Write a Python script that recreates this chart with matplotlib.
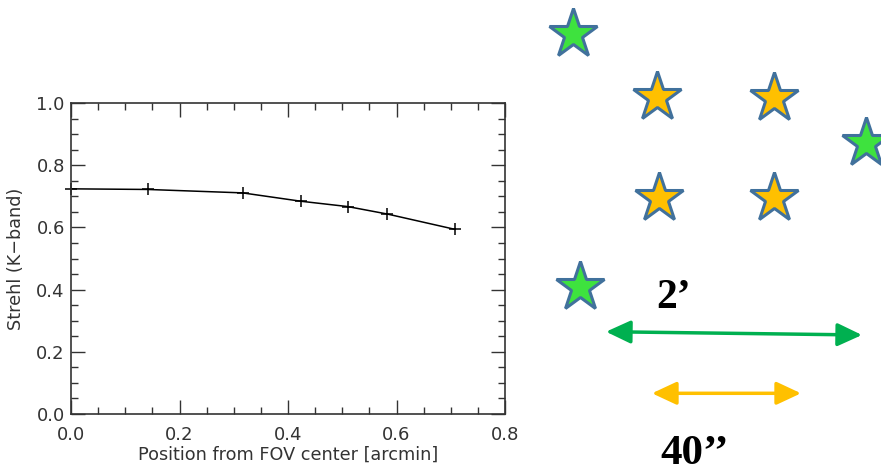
import matplotlib
matplotlib.use("Agg")
import matplotlib.pyplot as plt
from matplotlib.patches import FancyArrowPatch
from matplotlib.ticker import MultipleLocator

# ---- data ----
position_arcmin = [0.0, 0.1414, 0.3162, 0.4243, 0.510, 0.583, 0.7071]
strehl_k = [0.724, 0.722, 0.711, 0.684, 0.667, 0.643, 0.594]

x_ticks = [0.0, 0.2, 0.4, 0.6, 0.8]
y_ticks = [0.0, 0.2, 0.4, 0.6, 0.8, 1.0]

# schematic star field (figure pixel coordinates)
green_star_x = [573, 866, 580]
green_star_y = [34, 143, 287]
orange_star_x = [657, 774, 659, 774]
orange_star_y = [97, 98, 198, 198]

green_arrow_x = [606, 862]
green_arrow_y = [331.7, 335]
orange_arrow_x = [652, 801]
orange_arrow_y = [393.3, 393.3]

label_big = "2\u2019"
label_small = "40\u2019\u2019"

W, H = 881, 472
fig = plt.figure(figsize=(W / 100, H / 100), dpi=100)
fig.patch.set_facecolor("white")

# ---- left plot ----
L, R, T, B = 71, 505, 103, 414
ax = fig.add_axes([L / W, 1 - B / H, (R - L) / W, (B - T) / H])
axcol = "#333333"
ax.plot(position_arcmin, strehl_k, color="black", lw=1.1, marker="+",
        markersize=8, markeredgewidth=1.1, clip_on=False)
ax.set_xlim(0, 0.8)
ax.set_ylim(0, 1.0)
ax.set_xticks(x_ticks)
ax.set_yticks(y_ticks)
ax.set_xticklabels([f"{v:.1f}" for v in x_ticks])
ax.set_yticklabels([f"{v:.1f}" for v in y_ticks])
ax.xaxis.set_minor_locator(MultipleLocator(0.05))
ax.yaxis.set_minor_locator(MultipleLocator(0.05))
ax.tick_params(which="both", direction="in", top=True, right=True, color=axcol)
ax.tick_params(which="major", length=10, width=1.0, labelsize=13, labelcolor=axcol)
ax.tick_params(which="minor", length=5, width=1.0)
ax.tick_params(axis="x", which="major", pad=9)
ax.tick_params(axis="y", which="major", pad=4.5)
for s in ax.spines.values():
    s.set_color(axcol)
    s.set_linewidth(1.2)
ax.set_xlabel("Position from FOV center [arcmin]", fontsize=12.7, color=axcol, labelpad=1)
ax.set_ylabel("Strehl (K\u2212band)", fontsize=12.7, color=axcol, labelpad=8)

# ---- right schematic ----
ov = fig.add_axes([0, 0, 1, 1])
ov.set_xlim(0, W)
ov.set_ylim(H, 0)
ov.axis("off")
ov.patch.set_alpha(0)

edge = "#41719C"
ov.plot(green_star_x, green_star_y, ls="none", marker="*", markersize=37,
        markerfacecolor="#3EE23E", markeredgecolor=edge, markeredgewidth=2.2, clip_on=False)
ov.plot(orange_star_x, orange_star_y, ls="none", marker="*", markersize=37,
        markerfacecolor="#FFC000", markeredgecolor=edge, markeredgewidth=2.2, clip_on=False)

for xs, ys, col in [(green_arrow_x, green_arrow_y, "#00B050"),
                    (orange_arrow_x, orange_arrow_y, "#FFC000")]:
    arr = FancyArrowPatch((xs[0], ys[0]), (xs[1], ys[1]),
                          arrowstyle="<|-|>,head_length=15,head_width=7",
                          mutation_scale=1, color=col, lw=2.5, shrinkA=0, shrinkB=0)
    ov.add_patch(arr)

ov.text(656, 308, label_big, fontsize=30, fontweight="bold", family="Liberation Serif",
        ha="left", va="baseline", color="black")
ov.text(660, 464, label_small, fontsize=31, fontweight="bold", family="Liberation Serif",
        ha="left", va="baseline", color="black")

fig.savefig("out.png", dpi=100)
